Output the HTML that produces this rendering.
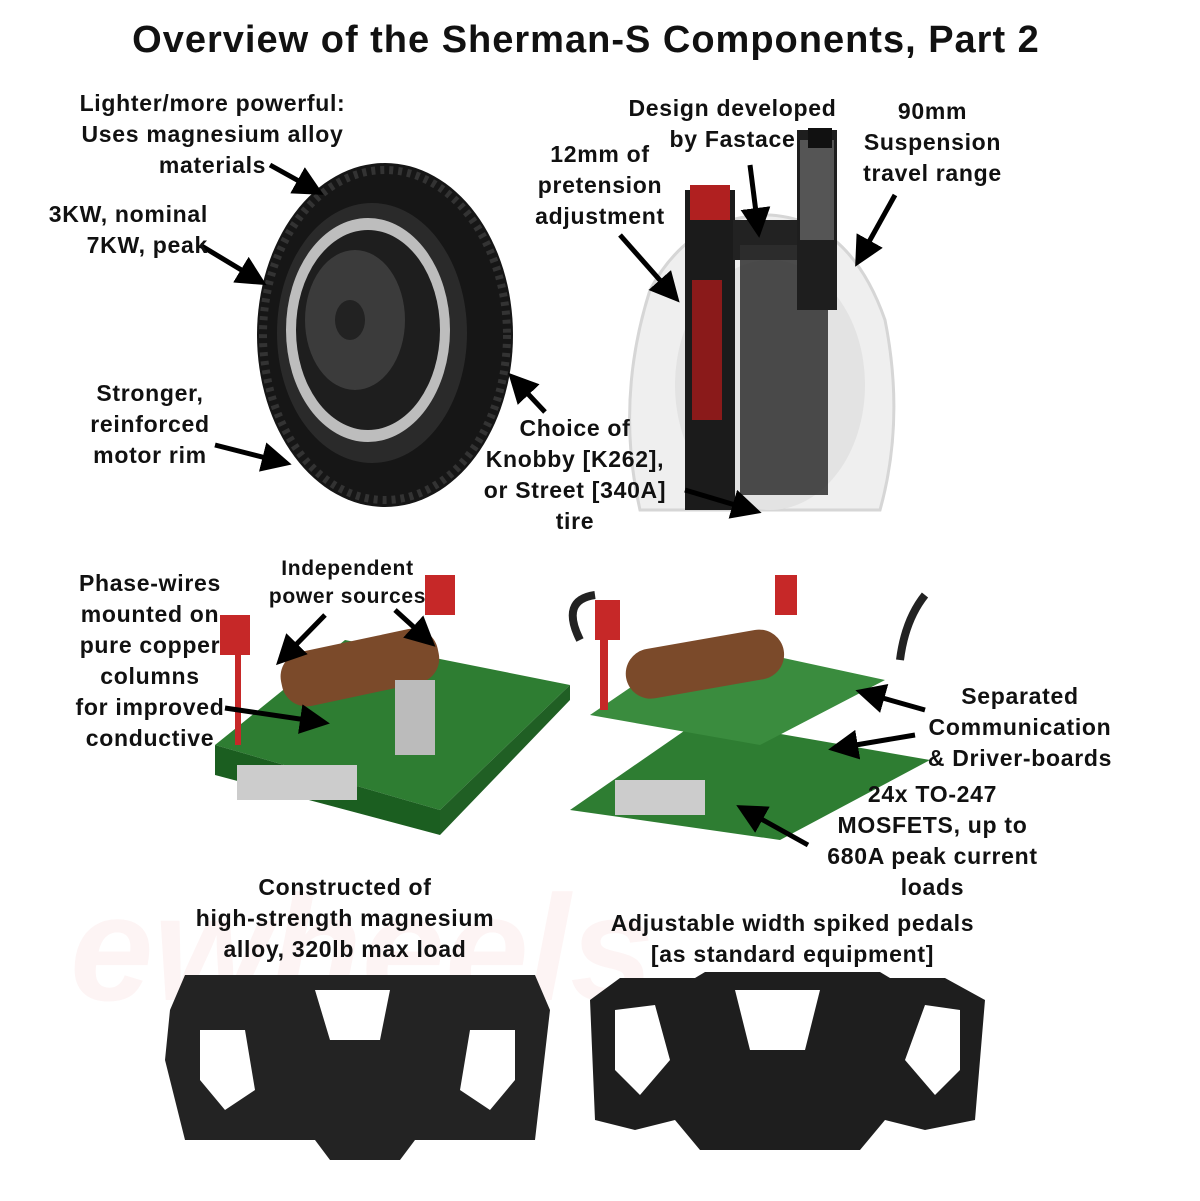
<!DOCTYPE html>
<html><head><meta charset="utf-8"><style>
html,body{margin:0;padding:0;background:#fff}
#c{position:relative;width:1200px;height:1201px;overflow:hidden;font-family:"Liberation Sans",sans-serif;font-weight:bold;color:#111}
.t{position:absolute;font-size:23px;letter-spacing:0.7px;line-height:31px;text-align:center;white-space:nowrap}
svg{position:absolute;left:0;top:0}
</style></head><body><div id="c">
<svg width="1200" height="1201" viewBox="0 0 1200 1201">
<defs>
<marker id="a" markerWidth="6" markerHeight="6" refX="4" refY="3" orient="auto"><path d="M0,0 L6,3 L0,6 z" fill="#000"/></marker>
</defs>
<text x="70" y="1000" font-size="150" font-style="italic" font-weight="bold" fill="#fdf4f4" font-family="Liberation Sans">ewheels</text>
<ellipse cx="385" cy="335" rx="128" ry="172" fill="#161616"/>
<ellipse cx="385" cy="335" rx="122" ry="165" fill="none" stroke="#333" stroke-width="8" stroke-dasharray="4 5"/>
<ellipse cx="372" cy="333" rx="95" ry="130" fill="#2a2a2a"/>
<ellipse cx="368" cy="330" rx="82" ry="112" fill="#bdbdbd"/>
<ellipse cx="368" cy="330" rx="72" ry="100" fill="#1e1e1e"/>
<ellipse cx="355" cy="320" rx="50" ry="70" fill="#3b3b3b"/>
<ellipse cx="350" cy="320" rx="15" ry="20" fill="#222"/>
<path d="M640,510 Q615,400 650,290 Q690,215 770,215 Q850,220 885,320 Q905,420 880,510 z" fill="#efefef" stroke="#d6d6d6" stroke-width="3"/>
<ellipse cx="770" cy="385" rx="95" ry="125" fill="#e3e3e3"/>
<rect x="685" y="190" width="50" height="320" fill="#1b1b1b"/>
<rect x="692" y="280" width="30" height="140" fill="#8a1a1a"/>
<rect x="733" y="220" width="100" height="40" fill="#222"/>
<rect x="740" y="245" width="88" height="250" fill="#2e2e2e" opacity="0.85"/>
<rect x="797" y="130" width="40" height="180" fill="#1e1e1e"/>
<rect x="800" y="140" width="34" height="100" fill="#555"/>
<rect x="690" y="185" width="40" height="35" fill="#b02020"/>
<rect x="808" y="128" width="24" height="20" fill="#111"/>
<polygon points="215,745 345,640 570,685 440,810" fill="#2e7d32"/>
<polygon points="215,745 440,810 440,835 215,775" fill="#1b5e20"/>
<polygon points="440,810 570,685 570,700 440,835" fill="#205f24"/>
<rect x="280" y="640" width="160" height="55" rx="25" fill="#7b4a2a" transform="rotate(-12 360 668)"/>
<rect x="237" y="765" width="120" height="35" fill="#ccc"/>
<rect x="395" y="680" width="40" height="75" fill="#bbb"/>
<rect x="220" y="615" width="30" height="40" fill="#c62828"/>
<rect x="235" y="655" width="6" height="90" fill="#c62828"/>
<rect x="425" y="575" width="30" height="40" fill="#c62828"/>
<polygon points="570,810 700,720 930,760 780,840" fill="#2e7d32"/>
<polygon points="590,715 700,640 885,680 760,745" fill="#3a8c3e"/>
<rect x="625" y="640" width="160" height="50" rx="25" fill="#7b4a2a" transform="rotate(-10 700 665)"/>
<rect x="615" y="780" width="90" height="35" fill="#ccc"/>
<rect x="595" y="600" width="25" height="40" fill="#c62828"/>
<rect x="600" y="640" width="8" height="70" fill="#c62828"/>
<rect x="775" y="575" width="22" height="40" fill="#c62828"/>
<path d="M580,640 Q560,600 595,595 M925,595 Q905,620 900,660" stroke="#222" stroke-width="8" fill="none"/>
<path d="M170,1010 L185,975 L535,975 L550,1010 L535,1140 L415,1140 L400,1160 L330,1160 L315,1140 L185,1140 L165,1060 z" fill="#232323"/>
<path d="M200,1030 L245,1030 L255,1090 L225,1110 L200,1080 z M470,1030 L515,1030 L515,1080 L490,1110 L460,1090 z M315,990 L390,990 L380,1040 L330,1040 z" fill="#fff"/>
<path d="M590,1000 L620,978 L695,978 L705,972 L880,972 L890,978 L945,978 L985,1000 L975,1120 L925,1130 L885,1120 L860,1150 L700,1150 L675,1120 L635,1130 L595,1120 z" fill="#1e1e1e"/>
<path d="M615,1010 L655,1005 L670,1060 L640,1095 L615,1070 z M925,1005 L960,1010 L960,1070 L935,1095 L905,1060 z M735,990 L820,990 L805,1050 L750,1050 z" fill="#fff"/>
<g stroke="#000" stroke-width="5" fill="none" marker-end="url(#a)">
<line x1="270" y1="165" x2="315" y2="190"/>
<line x1="200" y1="245" x2="258" y2="280"/>
<line x1="215" y1="445" x2="282" y2="462"/>
<line x1="545" y1="412" x2="515" y2="380"/>
<line x1="620" y1="235" x2="673" y2="295"/>
<line x1="750" y1="165" x2="758" y2="228"/>
<line x1="895" y1="195" x2="860" y2="258"/>
<line x1="685" y1="490" x2="752" y2="510"/>
<line x1="325" y1="615" x2="283" y2="658"/>
<line x1="395" y1="610" x2="428" y2="640"/>
<line x1="225" y1="708" x2="320" y2="722"/>
<line x1="925" y1="710" x2="865" y2="693"/>
<line x1="915" y1="735" x2="838" y2="748"/>
<line x1="808" y1="845" x2="745" y2="810"/>
</g>
</svg>
<div class="t" style="left:0;width:1172px;top:18px;font-size:38px;letter-spacing:1px;line-height:44px">Overview of the Sherman-S Components, Part 2</div>
<div class="t" style="left:40px;width:345px;top:88px">Lighter/more powerful:<br>Uses magnesium alloy<br>materials</div>
<div class="t" style="left:0;width:208px;top:199px;text-align:right">3KW, nominal<br>7KW, peak</div>
<div class="t" style="left:50px;width:200px;top:378px">Stronger,<br>reinforced<br>motor rim</div>
<div class="t" style="left:460px;width:230px;top:413px">Choice of<br>Knobby [K262],<br>or Street [340A]<br>tire</div>
<div class="t" style="left:505px;width:190px;top:139px">12mm of<br>pretension<br>adjustment</div>
<div class="t" style="left:600px;width:265px;top:93px">Design developed<br>by Fastace</div>
<div class="t" style="left:840px;width:185px;top:96px">90mm<br>Suspension<br>travel range</div>
<div class="t" style="left:255px;width:185px;top:555px;font-size:21px;line-height:28px">Independent<br>power sources</div>
<div class="t" style="left:45px;width:210px;top:568px">Phase-wires<br>mounted on<br>pure copper<br>columns<br>for improved<br>conductive</div>
<div class="t" style="left:900px;width:240px;top:681px">Separated<br>Communication<br>&amp; Driver-boards</div>
<div class="t" style="left:790px;width:285px;top:779px">24x TO-247<br>MOSFETS, up to<br>680A peak current<br>loads</div>
<div class="t" style="left:155px;width:380px;top:872px">Constructed of<br>high-strength magnesium<br>alloy, 320lb max load</div>
<div class="t" style="left:575px;width:435px;top:908px">Adjustable width spiked pedals<br>[as standard equipment]</div>
</div></body></html>
